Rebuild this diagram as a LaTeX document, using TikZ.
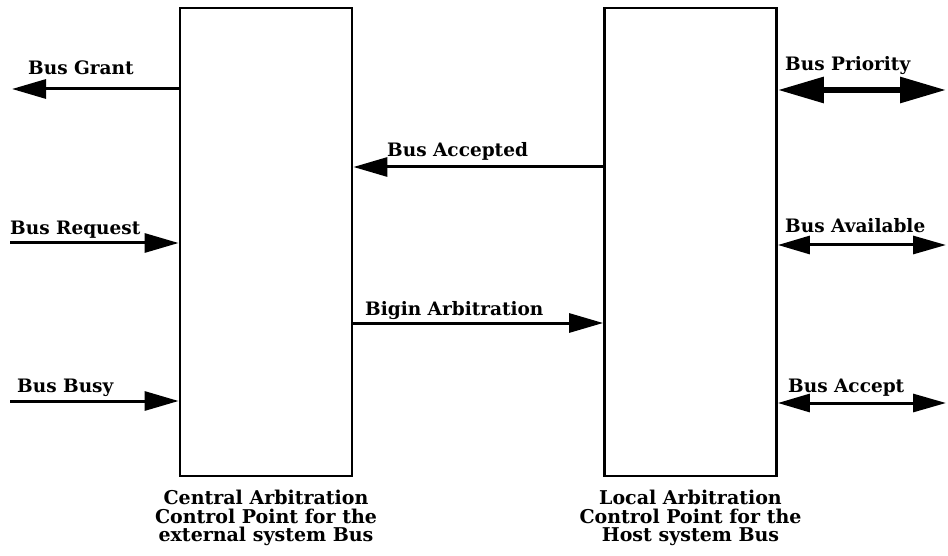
\documentclass[tikz,border=0pt]{standalone}
\usepackage{fontspec}
\setmainfont{DejaVu Serif}
\usetikzlibrary{arrows.meta}
\begin{document}
\begin{tikzpicture}[x=1pt,y=-1pt,
  unit/.style={draw, line width=2.8pt, inner sep=0pt, minimum width=172pt, minimum height=468pt},
  sig/.style={line width=3pt, -{Triangle[length=34pt,width=19pt]}},
  bidir/.style={line width=3pt, {Triangle[length=32pt,width=18pt]}-{Triangle[length=33pt,width=18pt]}},
  bigbidir/.style={line width=6pt, {Triangle[length=46pt,width=25pt]}-{Triangle[length=46pt,width=25pt]}},
  lbl/.style={inner sep=0pt, anchor=base west, font=\bfseries\fontsize{18.5}{22}\selectfont},
  caption/.style={inner sep=0pt, anchor=north, align=center, font=\bfseries\fontsize{19}{18.5}\selectfont}]
\useasboundingbox (0,0) rectangle (948,556);
\fill[white] (0,0) rectangle (948,556);

% the two arbitration units
\node[unit] (central) at (266,242) {};
\node[unit] (local) at (690.5,242) {};

% free ends of the outer signal lines
\coordinate (grantEnd) at (12,89);
\coordinate (requestStart) at (10,243);
\coordinate (busyStart) at (10,401);
\coordinate (priorityEnd) at (946,90);
\coordinate (availableEnd) at (946,245);
\coordinate (acceptEnd) at (946,403);

% signals of the central unit
\draw[sig] (central.west |- grantEnd) -- (grantEnd);
\node[lbl] (grantLbl) at (28,75) {Bus Grant};
\draw[sig] (requestStart) -- (central.west |- requestStart);
\node[lbl] (requestLbl) at (10,235) {Bus Request};
\draw[sig] (busyStart) -- (central.west |- busyStart);
\node[lbl] (busyLbl) at (17,392) {Bus Busy};

% handshake between the units
\coordinate (acceptedY) at (0,167);
\coordinate (biginY) at (0,323);
\draw[sig] (local.west |- acceptedY) -- (central.east |- acceptedY);
\node[lbl] (acceptedLbl) at (387,157) {Bus Accepted};
\draw[sig] (central.east |- biginY) -- (local.west |- biginY);
\node[lbl] (biginLbl) at (365,315) {Bigin Arbitration};

% signals of the local unit
\draw[bigbidir] (local.east |- priorityEnd) -- (priorityEnd);
\node[lbl] (priorityLbl) at (785,71) {Bus Priority};
\draw[bidir] (local.east |- availableEnd) -- (availableEnd);
\node[lbl] (availableLbl) at (785,233) {Bus Available};
\draw[bidir] (local.east |- acceptEnd) -- (acceptEnd);
\node[lbl] (acceptLbl) at (788,392) {Bus Accept};

% captions under the units
\node[caption] (centralCap) at (central.south |- 0,490) {Central Arbitration\\Control Point for the\\external system Bus};
\node[caption] (localCap) at (local.south |- 0,490) {Local Arbitration\\Control Point for the\\Host system Bus};
\end{tikzpicture}
\end{document}
